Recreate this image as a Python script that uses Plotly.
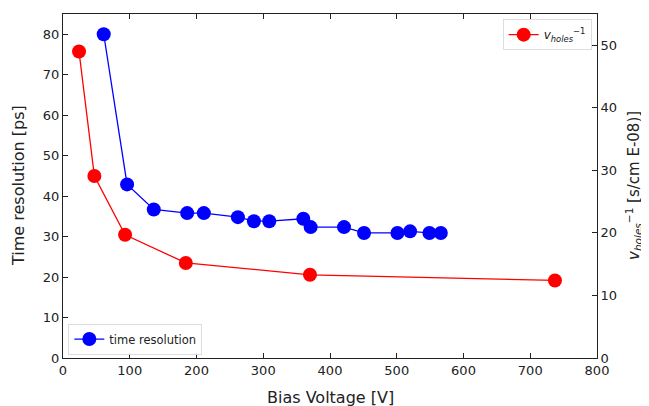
import plotly.graph_objects as go

# Data
voltage_tr = [61, 96, 136, 186, 211, 262, 286, 309, 360, 371, 421, 451, 501, 520, 549, 566]
time_res = [80.0, 42.9, 36.7, 35.8, 35.8, 34.8, 33.8, 33.8, 34.4, 32.35, 32.35, 30.9, 30.9, 31.3, 30.9, 30.9]
voltage_v = [24, 47, 93, 184, 370, 737]
inv_v_holes = [49.0, 29.1, 19.7, 15.2, 13.3, 12.4]

x_ticks = [0, 100, 200, 300, 400, 500, 600, 700, 800]
y_left_ticks = [0, 10, 20, 30, 40, 50, 60, 70, 80]
y_right_ticks = [0, 10, 20, 30, 40, 50]

FONT = "DejaVu Sans"
AX = "#222222"

fig = go.Figure()
fig.add_trace(go.Scatter(
    x=voltage_tr, y=time_res, mode="lines+markers", name="time resolution",
    line=dict(color="#0000ff", width=1.3),
    marker=dict(color="#0000ff", size=14),
    yaxis="y", legend="legend", showlegend=True,
))
fig.add_trace(go.Scatter(
    x=voltage_v, y=inv_v_holes, mode="lines+markers",
    name="<i>v</i><sub><i>holes</i></sub><sup>−1</sup>",
    line=dict(color="#ff0000", width=1.3),
    marker=dict(color="#ff0000", size=14),
    yaxis="y2", legend="legend2", showlegend=True,
))

axis_common = dict(
    ticks="inside", ticklen=5, tickcolor=AX, showline=True, linecolor=AX, linewidth=1,
    showgrid=False, zeroline=False, tickfont=dict(size=13), automargin=False,
)

# The page body has an 8px default margin, so the figure is sized to fit the window.
fig.update_layout(
    width=641, height=398,
    margin=dict(l=55, r=52, t=6, b=48),
    paper_bgcolor="white", plot_bgcolor="white",
    font=dict(family=FONT, color=AX, size=13),
    showlegend=True,
    xaxis=dict(range=[0, 800], tickvals=x_ticks, mirror="ticks", **axis_common),
    yaxis=dict(range=[0, 85], tickvals=y_left_ticks, **axis_common),
    yaxis2=dict(range=[0, 55], tickvals=y_right_ticks, overlaying="y", side="right", **axis_common),
    legend=dict(
        x=0.01, y=0.01, xanchor="left", yanchor="bottom",
        bgcolor="rgba(255,255,255,0.8)", bordercolor="#dddddd", borderwidth=1,
        font=dict(size=11.5), itemwidth=30,
    ),
    legend2=dict(
        x=0.99, y=0.985, xanchor="right", yanchor="top",
        bgcolor="rgba(255,255,255,0.8)", bordercolor="#dddddd", borderwidth=1,
        font=dict(size=12), itemwidth=30,
    ),
    annotations=[
        dict(text="Bias Voltage [V]", xref="paper", yref="paper", x=0.5, y=0,
             yshift=-39, xanchor="center", yanchor="middle", showarrow=False,
             font=dict(size=16)),
        dict(text="Time resolution [ps]", xref="paper", yref="paper", x=0, y=0.5,
             xshift=-45, xanchor="center", yanchor="middle", textangle=-90,
             showarrow=False, font=dict(size=16)),
        dict(text="<i>v</i><sub><i>holes</i></sub><sup>−1</sup> [s/cm E-08)]",
             xref="paper", yref="paper", x=1, y=0.5, xshift=36,
             xanchor="center", yanchor="middle", textangle=-90,
             showarrow=False, font=dict(size=15)),
    ],
)

fig.write_html("out.html")
